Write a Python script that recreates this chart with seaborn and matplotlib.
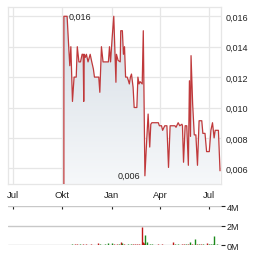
import matplotlib
matplotlib.use("Agg")
import matplotlib.pyplot as plt
import matplotlib.dates as mdates
import numpy as np
import pandas as pd
import seaborn as sns

# ---------------- data ----------------
price_dates = [
    "2023-10-04", "2023-10-10", "2023-10-13", "2023-10-15", "2023-10-17", "2023-10-20",
    "2023-10-23", "2023-10-27", "2023-10-29", "2023-11-01", "2023-11-04", "2023-11-07",
    "2023-11-09", "2023-11-10", "2023-11-11", "2023-11-13", "2023-11-15", "2023-11-18",
    "2023-11-22", "2023-11-25", "2023-11-28", "2023-11-30", "2023-12-08", "2023-12-10",
    "2023-12-11", "2023-12-13", "2023-12-16", "2023-12-26", "2023-12-28", "2023-12-30",
    "2024-01-02", "2024-01-05", "2024-01-09", "2024-01-10", "2024-01-13", "2024-01-17",
    "2024-01-18", "2024-01-21", "2024-01-23", "2024-01-25", "2024-01-27", "2024-01-30",
    "2024-02-01", "2024-02-03", "2024-02-05", "2024-02-07", "2024-02-10", "2024-02-12",
    "2024-02-17", "2024-02-19", "2024-02-21", "2024-02-23", "2024-02-27", "2024-02-29",
    "2024-03-03", "2024-03-06", "2024-03-09", "2024-03-12", "2024-03-14", "2024-03-16",
    "2024-03-28", "2024-03-30", "2024-04-03", "2024-04-05", "2024-04-09", "2024-04-13",
    "2024-04-16", "2024-04-19", "2024-04-28", "2024-04-30", "2024-05-04", "2024-05-07",
    "2024-05-11", "2024-05-12", "2024-05-14", "2024-05-17", "2024-05-20", "2024-05-23",
    "2024-05-25", "2024-05-27", "2024-05-28", "2024-05-31", "2024-06-03", "2024-06-06",
    "2024-06-09", "2024-06-12", "2024-06-17", "2024-06-19", "2024-06-23", "2024-06-26",
    "2024-07-01", "2024-07-04", "2024-07-07", "2024-07-10", "2024-07-12", "2024-07-18",
    "2024-07-21",
]
price_values = [
    0.0160, 0.0160, 0.0140, 0.01275, 0.0140, 0.0104,
    0.0120, 0.0120, 0.0140, 0.0130, 0.0130, 0.0135,
    0.0135, 0.0104, 0.0135, 0.0133, 0.0135, 0.0130,
    0.0135, 0.0130, 0.01253, 0.0120, 0.0120, 0.0110,
    0.0120, 0.0140, 0.0130, 0.0130, 0.0140, 0.0130,
    0.0146, 0.0160, 0.01166, 0.0135, 0.0131, 0.0130,
    0.01505, 0.01505, 0.0135, 0.0140, 0.0120, 0.0120,
    0.0118, 0.01155, 0.0120, 0.0122, 0.01133, 0.0100,
    0.0100, 0.0120, 0.01155, 0.0117, 0.01155, 0.01505,
    0.00551, 0.0076, 0.00957, 0.0074, 0.0089, 0.0090,
    0.0090, 0.0088, 0.0088, 0.0085, 0.0088, 0.0088,
    0.00606, 0.0088, 0.0088, 0.0087, 0.0090, 0.0088,
    0.0089, 0.0088, 0.0064, 0.0088, 0.0088, 0.0062,
    0.01176, 0.0081, 0.01341, 0.01023, 0.0082, 0.0082,
    0.0062, 0.00913, 0.00913, 0.0083, 0.0083, 0.0071,
    0.0071, 0.0085, 0.0090, 0.0080, 0.0085, 0.0085,
    0.00584,
]

vol_dates = [
    "2023-10-15", "2023-10-19", "2023-10-25", "2023-10-28", "2023-11-03", "2023-11-09",
    "2023-11-14", "2023-11-18", "2023-11-23", "2023-12-07", "2023-12-10", "2023-12-19",
    "2023-12-25", "2024-01-02", "2024-01-05", "2024-01-11", "2024-01-14", "2024-01-18",
    "2024-01-20", "2024-01-24", "2024-01-31", "2024-02-06", "2024-02-10", "2024-02-13",
    "2024-02-17", "2024-02-21", "2024-02-27", "2024-02-29", "2024-03-02", "2024-03-04",
    "2024-03-06", "2024-03-12", "2024-03-16", "2024-03-27", "2024-04-03", "2024-04-11",
    "2024-04-25", "2024-04-28", "2024-05-03", "2024-05-11", "2024-05-14", "2024-05-18",
    "2024-05-23", "2024-05-26", "2024-05-30", "2024-06-04", "2024-06-08", "2024-06-12",
    "2024-06-15", "2024-06-19", "2024-06-26", "2024-06-30", "2024-07-04", "2024-07-08",
    "2024-07-10", "2024-07-15",
]
vol_millions = [
    0.08, 0.10, 0.10, 0.10, 0.10, 0.10,
    0.10, 0.08, 0.10, 0.25, 0.10, 0.10,
    0.20, 0.20, 0.10, 0.10, 0.10, 0.35,
    0.20, 0.10, 0.10, 0.15, 0.10, 0.10,
    0.10, 0.10, 1.90, 0.30, 0.20, 1.05,
    0.35, 0.10, 0.10, 0.10, 0.10, 0.08,
    0.30, 0.10, 0.10, 0.10, 0.10, 0.10,
    0.15, 0.30, 0.10, 0.65, 0.10, 0.10,
    0.10, 0.10, 0.25, 0.10, 0.10, 0.10,
    0.95, 0.15,
]
vol_up = [
    0, 1, 0, 0, 1, 0,
    0, 1, 0, 0, 1, 1,
    1, 1, 0, 0, 1, 0,
    1, 0, 1, 1, 0, 0,
    0, 0, 0, 0, 0, 1,
    1, 1, 1, 0, 0, 1,
    0, 1, 1, 0, 0, 1,
    0, 1, 0, 1, 0, 1,
    0, 1, 0, 1, 1, 1,
    1, 1,
]

month_ticks = ["2023-07-01", "2023-10-01", "2024-01-01", "2024-04-01", "2024-07-01"]
month_labels = ["Jul", "Okt", "Jan", "Apr", "Jul"]
price_ticks = [0.006, 0.008, 0.010, 0.012, 0.014, 0.016]
vol_ticks = [0, 2, 4]
vol_labels = ["0M", "2M", "4M"]

# ---------------- style ----------------
sns.set_theme(style="white")
plt.rcParams["font.family"] = ["Liberation Sans", "DejaVu Sans"]

LINE = "#c0393b"
GRID = "#e6e6e6"
TXT = "#222222"

W, H = 264, 255
fig = plt.figure(figsize=(W / 100, H / 100), dpi=100)


def rect(l, t, r, b):
    return [l / W, 1 - b / H, (r - l) / W, (b - t) / H]


ax = fig.add_axes(rect(8.3, 8, 221, 185))
axv = fig.add_axes(rect(8.3, 207.3, 221, 246.3))

xmin = mdates.date2num(pd.Timestamp("2023-06-22 10:00"))
xmax = mdates.date2num(pd.Timestamp("2024-07-22 20:00"))
ymin, ymax = 0.00497, 0.01661

pdates = pd.to_datetime(price_dates)
df = pd.DataFrame({"date": pdates, "price": price_values})
# series enters from the bottom of the chart
plot_df = pd.concat(
    [pd.DataFrame({"date": [pdates[0]], "price": [ymin - 0.0003]}), df],
    ignore_index=True,
)

# gradient area fill
xnum = mdates.date2num(plot_df["date"])
poly = ax.fill_between(xnum, plot_df["price"], ymin - 0.001, color="none", lw=0)
grad = np.linspace(0, 1, 256).reshape(-1, 1)
top_c = np.array([0.835, 0.865, 0.895])
bot_c = np.array([0.965, 0.972, 0.980])
img = top_c + (bot_c - top_c) * grad
img = img.reshape(256, 1, 3)
im = ax.imshow(img, extent=[xnum.min(), xnum.max(), ymin, 0.0162],
               aspect="auto", origin="upper", zorder=1)
im.set_clip_path(poly.get_paths()[0], transform=ax.transData)

sns.lineplot(data=plot_df, x="date", y="price", ax=ax, color=LINE, lw=0.9,
             sort=False, estimator=None, zorder=3)

ax.set_xlim(xmin, xmax)
ax.set_ylim(ymin, ymax)
ax.set_xlabel("")
ax.set_ylabel("")
ax.set_xticks(mdates.date2num(pd.to_datetime(month_ticks)))
ax.set_xticklabels(month_labels)
ax.set_yticks(price_ticks)
ax.set_yticklabels([f"{v:.3f}".replace(".", ",") for v in price_ticks])
ax.yaxis.tick_right()
ax.tick_params(axis="x", length=0, pad=4.0, labelsize=6.8, labelcolor=TXT)
ax.tick_params(axis="y", length=0, pad=3.6, labelsize=6.5, labelcolor=TXT)
ax.grid(True, color=GRID, lw=0.9)
ax.set_axisbelow(True)
for s in ax.spines.values():
    s.set_color(GRID)
    s.set_linewidth(0.9)

# max / min annotations
imax = int(np.argmax(price_values))
imin = int(np.argmin(price_values))
ax.annotate(f"{price_values[imax]:.3f}".replace(".", ","),
            xy=(mdates.date2num(pdates[imax]), price_values[imax]),
            xytext=(3.5, 0), textcoords="offset points", ha="left", va="center",
            fontsize=6.5, color=TXT, zorder=5)
ax.annotate(f"{price_values[imin]:.3f}".replace(".", ","),
            xy=(mdates.date2num(pdates[imin]), price_values[imin]),
            xytext=(-3.2, 0), textcoords="offset points", ha="right", va="center",
            fontsize=6.5, color=TXT, zorder=5)

# ---------------- volume panel ----------------
vnum = mdates.date2num(pd.to_datetime(vol_dates))
vcols = ["#1a8a1a" if u else "#c01818" for u in vol_up]
axv.vlines(vnum, 0, vol_millions, colors=vcols, lw=1.0, zorder=3)
axv.set_xlim(xmin, xmax)
axv.set_ylim(0, 4)
axv.set_yticks(vol_ticks)
axv.set_yticklabels(vol_labels)
axv.yaxis.tick_right()
axv.tick_params(axis="y", length=3.0, width=0.8, color=TXT, pad=1.0,
                labelsize=6.5, labelcolor=TXT, direction="out")
axv.set_xticks(mdates.date2num(pd.to_datetime(month_ticks)))
axv.xaxis.set_ticks_position("top")
axv.tick_params(axis="x", which="both", top=True, bottom=False, length=1.8, width=0.8,
                color=TXT, direction="in", labeltop=False, labelbottom=False)
axv.grid(True, axis="y", color="#c8c8c8", lw=1.0)
axv.set_axisbelow(True)
for s in axv.spines.values():
    s.set_visible(False)
axv.set_facecolor("none")
ax.set_facecolor("white")

fig.savefig("out.png", dpi=100)
